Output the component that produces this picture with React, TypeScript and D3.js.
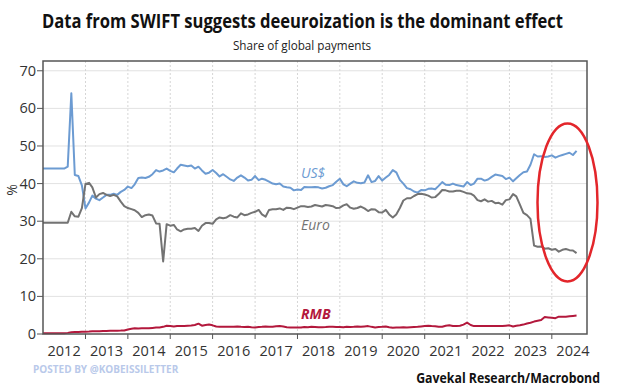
import React, { useEffect, useRef } from "react";
import * as d3 from "d3";

// monthly shares of global SWIFT payments, Jan 2012 .. Aug 2024 (%)
const usd = [
  44, 44, 44, 44, 44, 44, 44, 44.5, 64, 42.3, 42, 39.5,
  33.4, 35, 36.8, 36, 35.6, 36.3, 37, 37, 37.3, 37, 37.8, 38.3,
  39.2, 38.8, 39.8, 41.5, 41.6, 41.5, 41.8, 42.5, 43.6, 43.2, 43.5, 44,
  43.4, 43, 44, 45, 44.8, 44.6, 44.8, 44, 44.5, 43.5, 42.6, 42.9,
  43.6, 42.8, 41.9, 42.5, 41.8, 41.1, 40.7, 41.6, 42.2, 41.6, 40.8, 41,
  42, 40.9, 41.3, 41, 40.5, 40, 39.8, 40, 39.2, 39, 38.9, 38.2,
  38.4, 38.3, 39.1, 39, 39, 39.1, 39, 38.7, 38.9, 39.3, 39.6, 40.5,
  41.3, 39.8, 39.3, 40, 40.6, 40.2, 40.1, 40.3, 42.2, 40.4, 40.7, 42,
  40.8, 41.6, 42.3, 43.6, 43, 41, 40, 38.8, 38.5, 37.9, 37.6, 38.3,
  38.2, 38.6, 38.7, 38.5, 39.4, 40.4, 39.7, 39.6, 40, 39.6, 39.4, 39.2,
  40.4, 39.6, 40, 41.3, 41.3, 40.8, 41.1, 41.8, 42.4, 42.2, 42, 41.2,
  41.6, 40.6, 41.4, 42.3, 43, 43.2, 45, 47.8, 47.2, 47.3, 47.1, 47.2,
  47.5, 46.9, 47.3, 47.6, 47.9, 48.2, 47.6, 48.7,
];

const euro = [
  29.6, 29.6, 29.6, 29.6, 29.6, 29.6, 29.6, 29.6, 32.5, 31.3, 31.2, 33.5,
  39.9, 40.2, 39, 36.3, 37.2, 37.5, 37, 36.7, 37, 36.6, 35.2, 34,
  33.5, 33.2, 32.9, 32.2, 31.1, 31.6, 31.8, 31.5, 29.4, 29.3, 19.3, 29.2,
  28.8, 29, 27.8, 27.3, 27.8, 28, 28, 28.2, 27.4, 28.8, 29.5, 29.5,
  29.3, 30.5, 31, 30.8, 31, 31.6, 31.2, 31, 32.1, 31.6, 31.8, 32.2,
  32.5, 33, 31.8, 31.2, 33, 33.2, 33.2, 33.4, 33, 33.6, 33.5, 33.2,
  33.6, 34, 34, 33.8, 33.9, 34.3, 34.1, 33.9, 34.3, 34.2, 34, 33.5,
  33.6, 34.2, 34.5, 33.6, 33.3, 33.5, 33.9, 33.4, 32.7, 33.2, 33.1, 32.4,
  32.3, 33, 31.8, 31, 31.8, 33.5, 35.5, 36.1, 36.1, 36.7, 37.2, 37.3,
  37.1, 36.8, 36.3, 36.4, 37.2, 38.3, 38.2, 37.9, 37.9, 38.1, 38.1, 37.8,
  37.4, 37.3, 36.8, 35.6, 35.3, 35.8, 35.2, 35.4, 34.8, 34.9, 34.4, 35.6,
  35.8, 37.2, 36.6, 34.4, 32.2, 31.6, 30.6, 23.5, 23.2, 23.3, 22.7, 22.8,
  22.4, 22.6, 21.9, 22.4, 22.6, 22.3, 22.2, 21.5,
];

const rmb = [
  0.2, 0.2, 0.2, 0.2, 0.2, 0.2, 0.2, 0.3, 0.45, 0.5, 0.55, 0.6,
  0.62, 0.65, 0.7, 0.72, 0.75, 0.8, 0.82, 0.84, 0.86, 0.88, 0.9, 0.95,
  1.2, 1.4, 1.5, 1.45, 1.5, 1.55, 1.5, 1.6, 1.7, 1.75, 1.9, 2.2,
  2.1, 2.0, 2.1, 2.1, 2.15, 2.2, 2.25, 2.4, 2.75, 2.2, 2.4, 2.5,
  2.3, 2.0, 1.9, 1.95, 1.9, 1.95, 1.9, 2.0, 1.9, 1.85, 1.9, 1.8,
  1.75, 1.85, 1.9, 2.0, 1.95, 1.9, 2.05, 2.1, 2.0, 1.8, 1.75, 1.7,
  1.75, 1.7, 1.85, 1.8, 1.9, 1.85, 1.8, 1.8, 1.85, 1.95, 1.9, 1.85,
  1.85, 1.8, 1.9, 1.85, 1.9, 2.0, 1.9, 2.0, 2.1, 1.9, 1.75, 1.85,
  1.9, 2.0, 1.8, 1.65, 1.7, 1.75, 1.8, 1.75, 1.8, 1.85, 1.9, 2.0,
  2.1, 2.2, 2.1, 2.05, 1.9, 1.95, 2.2, 2.3, 2.15, 2.1, 2.2, 2.5,
  3.0, 2.4, 2.1, 2.1, 2.1, 2.1, 2.15, 2.1, 2.1, 2.15, 2.1, 2.2,
  2.3, 2.0, 2.2, 2.3, 2.5, 2.8, 3.0, 3.3, 3.5, 3.7, 4.5, 4.4,
  4.3, 4.2, 4.6, 4.6, 4.6, 4.7, 4.8, 4.9,
];

const years = [2012, 2013, 2014, 2015, 2016, 2017, 2018, 2019, 2020, 2021, 2022, 2023, 2024];
const yTicks = [0, 10, 20, 30, 40, 50, 60, 70];

// label anchor: [year, month index, value]
const seriesList = [
  { name: "US$", values: usd, color: "#6c9bd2", label: [2018, 1, 41.6] },
  { name: "Euro", values: euro, color: "#737373", label: [2018, 1, 27.6] },
  { name: "RMB", values: rmb, color: "#b3183c", label: [2018, 1, 4.0] },
];

export default function App() {
  const ref = useRef<SVGSVGElement>(null);

  useEffect(() => {
    const width = 619;
    const height = 389;
    const margin = { top: 61, right: 32, bottom: 55, left: 43 };

    const svg = d3.select(ref.current);
    svg.selectAll("*").remove();

    const x = d3
      .scaleTime()
      .domain([new Date(2012, 0, 1), new Date(2024, 9, 30)])
      .range([margin.left, width - margin.right]);
    const y = d3
      .scaleLinear()
      .domain([0, 72.6])
      .range([height - margin.bottom, margin.top]);

    const font = "'Open Sans', 'DejaVu Sans', sans-serif";

    // title + subtitle (squeezed horizontally, the original uses a condensed face)
    svg
      .append("text")
      .attr("transform", "translate(42,28) scale(0.83,1)")
      .attr("font-family", font)
      .attr("font-weight", 700)
      .attr("font-size", 20)
      .attr("fill", "#111")
      .text("Data from SWIFT suggests deeuroization is the dominant effect");

    svg
      .append("text")
      .attr("transform", "translate(302,50) scale(0.9,1)")
      .attr("text-anchor", "middle")
      .attr("font-family", font)
      .attr("font-size", 13)
      .attr("fill", "#222")
      .text("Share of global payments");

    // grid
    const grid = svg.append("g");
    grid
      .selectAll("line.h")
      .data(yTicks.slice(1))
      .join("line")
      .attr("x1", margin.left)
      .attr("x2", width - margin.right)
      .attr("y1", (d) => y(d))
      .attr("y2", (d) => y(d))
      .attr("stroke", "#e2e2e2")
      .attr("stroke-width", 1);
    grid
      .selectAll("line.v")
      .data(years.slice(1))
      .join("line")
      .attr("x1", (d) => x(new Date(d, 0, 1)))
      .attr("x2", (d) => x(new Date(d, 0, 1)))
      .attr("y1", margin.top)
      .attr("y2", height - margin.bottom)
      .attr("stroke", "#d6d6d6")
      .attr("stroke-width", 1)
      .attr("stroke-dasharray", "2,2");

    // y ticks + labels
    const yAxis = svg.append("g");
    yAxis
      .selectAll("line")
      .data(yTicks)
      .join("line")
      .attr("x1", margin.left - 6)
      .attr("x2", margin.left)
      .attr("y1", (d) => y(d))
      .attr("y2", (d) => y(d))
      .attr("stroke", "#555");
    yAxis
      .selectAll("text")
      .data(yTicks)
      .join("text")
      .attr("x", margin.left - 7)
      .attr("y", (d) => y(d) + 5)
      .attr("text-anchor", "end")
      .attr("font-family", font)
      .attr("font-size", 14.5)
      .attr("fill", "#333")
      .text((d) => d);

    svg
      .append("text")
      .attr("transform", "translate(17,190) rotate(-90)")
      .attr("text-anchor", "middle")
      .attr("font-family", font)
      .attr("font-size", 14)
      .attr("fill", "#333")
      .text("%");

    // x ticks + labels
    const xAxis = svg.append("g");
    xAxis
      .selectAll("line")
      .data(years.slice(1))
      .join("line")
      .attr("x1", (d) => x(new Date(d, 0, 1)))
      .attr("x2", (d) => x(new Date(d, 0, 1)))
      .attr("y1", height - margin.bottom)
      .attr("y2", height - margin.bottom + 5)
      .attr("stroke", "#555");
    xAxis
      .selectAll("text")
      .data(years)
      .join("text")
      .attr("x", (d) => x(new Date(d, 6, 1)))
      .attr("y", height - margin.bottom + 22)
      .attr("text-anchor", "middle")
      .attr("font-family", font)
      .attr("font-size", 14.5)
      .attr("fill", "#333")
      .text((d) => d);

    // lines
    const line = d3
      .line<number>()
      .x((_, i) => x(new Date(2012, i, 1)))
      .y((d) => y(d));

    seriesList.forEach((s) => {
      svg
        .append("path")
        .datum(s.values)
        .attr("fill", "none")
        .attr("stroke", s.color)
        .attr("stroke-width", 2)
        .attr("stroke-linejoin", "round")
        .attr("d", line);
    });

    svg
      .selectAll("text.series")
      .data(seriesList)
      .join("text")
      .attr("x", (d) => x(new Date(d.label[0], d.label[1], 1)))
      .attr("y", (d) => y(d.label[2]))
      .attr("font-family", font)
      .attr("font-style", "italic")
      .attr("font-weight", (d) => (d.name === "RMB" ? 700 : 400))
      .attr("font-size", 14)
      .attr("fill", (d) => d.color)
      .text((d) => d.name);

    // frame
    svg
      .append("rect")
      .attr("x", margin.left)
      .attr("y", margin.top)
      .attr("width", width - margin.right - margin.left)
      .attr("height", height - margin.bottom - margin.top)
      .attr("fill", "none")
      .attr("stroke", "#555")
      .attr("stroke-width", 1.5);

    // highlight ellipse
    svg
      .append("ellipse")
      .attr("cx", x(new Date(2024, 4, 15)))
      .attr("cy", y(35))
      .attr("rx", 30)
      .attr("ry", 79)
      .attr("fill", "none")
      .attr("stroke", "#e3262b")
      .attr("stroke-width", 2.5);

    // footer
    svg
      .append("text")
      .attr("x", 33)
      .attr("y", 373)
      .attr("font-family", font)
      .attr("font-weight", 700)
      .attr("font-size", 10)
      .attr("fill", "#b9c9ea")
      .text("POSTED BY @KOBEISSILETTER");

    svg
      .append("text")
      .attr("transform", "translate(600,383) scale(0.88,1)")
      .attr("text-anchor", "end")
      .attr("font-family", font)
      .attr("font-weight", 700)
      .attr("font-size", 14)
      .attr("fill", "#111")
      .text("Gavekal Research/Macrobond");
  }, []);

  return (
    <svg
      ref={ref}
      width={619}
      height={389}
      style={{ position: "absolute", left: 0, top: 0, background: "#fff" }}
    />
  );
}
